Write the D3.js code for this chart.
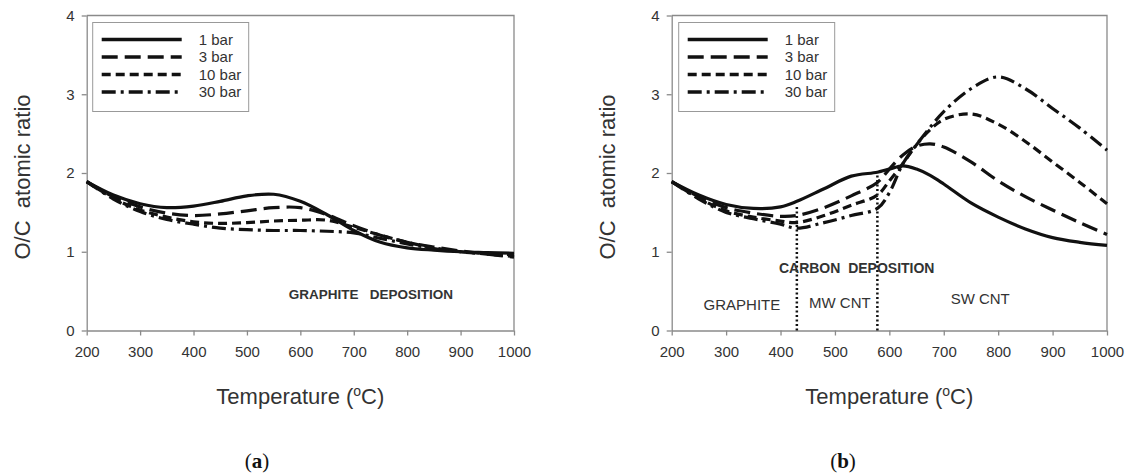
<!DOCTYPE html>
<html>
<head>
<meta charset="utf-8">
<script src="https://cdn.jsdelivr.net/npm/d3@7"></script>
<style>
  body { margin: 0; background: #fff; }
  text { font-family: "Liberation Sans", Arial, sans-serif; fill: #333; }
  .axis path, .axis line { stroke: #8a8a8a; stroke-width: 1.3; }
  .axis text { font-family: "Liberation Sans", Arial, sans-serif; font-size: 15px; fill: #333; }
</style>
</head>
<body>
<div id="chart"></div>
<script>
const width = 1128,
  height = 475;

// DATA
const seriesNames = ["1 bar", "3 bar", "10 bar", "30 bar"];
const xTicks = [200, 300, 400, 500, 600, 700, 800, 900, 1000];
const yTicks = [0, 1, 2, 3, 4];

// panel (a): graphite deposition
const tempA = [200, 250, 300, 350, 400, 450, 500, 550, 600, 650, 700, 750, 800, 850, 900, 950, 1000];
const bar1A = [1.89, 1.72, 1.61, 1.56, 1.58, 1.64, 1.71, 1.73, 1.64, 1.47, 1.27, 1.12, 1.05, 1.02, 1.0, 0.99, 0.98];
const bar3A = [1.89, 1.7, 1.57, 1.49, 1.46, 1.48, 1.52, 1.56, 1.56, 1.47, 1.33, 1.21, 1.12, 1.06, 1.01, 0.97, 0.93];
const bar10A = [1.89, 1.68, 1.53, 1.44, 1.38, 1.36, 1.37, 1.39, 1.4, 1.4, 1.31, 1.21, 1.12, 1.05, 1.0, 0.97, 0.94];
const bar30A = [1.89, 1.67, 1.51, 1.41, 1.35, 1.3, 1.28, 1.27, 1.27, 1.26, 1.24, 1.17, 1.1, 1.04, 1.0, 0.98, 0.96];

// panel (b): carbon deposition
const tempB = [200, 250, 300, 350, 400, 430, 480, 530, 578, 600, 625, 650, 675, 700, 750, 800, 850, 900, 950, 1000];
const bar1B = [1.89, 1.72, 1.6, 1.55, 1.57, 1.64, 1.8, 1.96, 2.01, 2.05, 2.09, 2.05, 1.97, 1.86, 1.62, 1.44, 1.29, 1.18, 1.12, 1.08];
const bar3B = [1.89, 1.7, 1.56, 1.49, 1.45, 1.46, 1.56, 1.71, 1.88, 2.05, 2.23, 2.34, 2.37, 2.33, 2.14, 1.9, 1.7, 1.53, 1.37, 1.22];
const bar10B = [1.89, 1.68, 1.52, 1.44, 1.39, 1.37, 1.46, 1.59, 1.72, 1.9, 2.12, 2.36, 2.55, 2.68, 2.75, 2.62, 2.4, 2.14, 1.88, 1.61];
const bar30B = [1.89, 1.67, 1.5, 1.42, 1.35, 1.3, 1.37, 1.46, 1.55, 1.75, 2.12, 2.36, 2.58, 2.78, 3.07, 3.22, 3.07, 2.82, 2.57, 2.29];

// region dividers in (b): temperature and top value
const dividerTemps = [430, 578];
const dividerTops = [1.6, 1.98];

const dashes = [null, "16,7", "9,5", "14,5,3,5"];

const svg = d3
  .select("#chart")
  .append("svg")
  .attr("width", width)
  .attr("height", height);

function drawPanel(p) {
  const xScale = d3.scaleLinear().domain([200, 1000]).range([p.left, p.right]);
  const yScale = d3.scaleLinear().domain([0, 4]).range([p.bottom, p.top]);

  const g = svg.append("g");

  // frame (top + right)
  g.append("path")
    .attr("d", `M${p.left},${p.top}H${p.right}V${p.bottom}`)
    .attr("fill", "none")
    .attr("stroke", "#8a8a8a")
    .attr("stroke-width", 1.3);

  g.append("g")
    .attr("class", "axis")
    .attr("transform", `translate(0,${p.bottom})`)
    .call(d3.axisBottom(xScale).tickValues(xTicks).tickFormat(d3.format("d"))
      .tickSize(5).tickSizeOuter(0).tickPadding(11));

  g.append("g")
    .attr("class", "axis")
    .attr("transform", `translate(${p.left},0)`)
    .call(d3.axisLeft(yScale).tickValues(yTicks).tickFormat(d3.format("d"))
      .tickSize(5).tickSizeOuter(0).tickPadding(7));

  // axis titles
  const xt = g.append("text")
    .attr("x", (p.left + p.right) / 2)
    .attr("y", 404)
    .attr("text-anchor", "middle")
    .style("font-size", "22px");
  xt.append("tspan").text("Temperature (");
  xt.append("tspan").attr("baseline-shift", "super").style("font-size", "14px").text("o");
  xt.append("tspan").text("C)");

  g.append("text")
    .attr("transform", `translate(${p.left - 57},${(p.top + p.bottom) / 2 + 4}) rotate(-90)`)
    .attr("text-anchor", "middle")
    .style("font-size", "22px")
    .style("white-space", "pre")
    .text("O/C  atomic ratio");

  // curves
  const line = d3.line()
    .x(d => xScale(d[0]))
    .y(d => yScale(d[1]))
    .curve(d3.curveCatmullRom.alpha(0.5));

  p.series.forEach((vals, i) => {
    g.append("path")
      .datum(p.temps.map((t, j) => [t, vals[j]]))
      .attr("fill", "none")
      .attr("stroke", "#111")
      .attr("stroke-width", 3.2)
      .attr("stroke-dasharray", dashes[i])
      .attr("d", line);
  });

  // legend
  const lg = g.append("g").attr("transform", `translate(${p.left + p.legendDx},${p.top + 7})`);
  lg.append("rect")
    .attr("width", 156)
    .attr("height", 89)
    .attr("fill", "#fff")
    .attr("stroke", "#999")
    .attr("stroke-width", 1);
  seriesNames.forEach((name, i) => {
    const y = 17 + i * 17.5;
    lg.append("line")
      .attr("x1", 9).attr("x2", 89)
      .attr("y1", y).attr("y2", y)
      .attr("stroke", "#111")
      .attr("stroke-width", 3.5)
      .attr("stroke-dasharray", dashes[i]);
    lg.append("text")
      .attr("x", 106)
      .attr("y", y + 5)
      .style("font-size", "15px")
      .text(name);
  });

  // panel letter
  const lt = g.append("text")
    .attr("x", p.letterX)
    .attr("y", 468)
    .attr("text-anchor", "middle")
    .style("font-family", "'Liberation Serif', 'DejaVu Serif', serif")
    .style("font-size", "21px")
    .style("fill", "#111");
  lt.append("tspan").text("(");
  lt.append("tspan").style("font-weight", "bold").text(p.letter);
  lt.append("tspan").text(")");

  return { xScale, yScale, g };
}

// (a)
const pa = drawPanel({
  left: 86.7, right: 514, top: 15.5, bottom: 330.5,
  temps: tempA, series: [bar1A, bar3A, bar10A, bar30A],
  legendDx: 6, letter: "a", letterX: 257
});
pa.g.append("text")
  .attr("x", pa.xScale(732))
  .attr("y", pa.yScale(0.46) + 5)
  .attr("text-anchor", "middle")
  .style("font-size", "13.5px")
  .style("font-weight", "bold")
  .style("white-space", "pre")
  .text("GRAPHITE   DEPOSITION");

// (b)
const pb = drawPanel({
  left: 671.7, right: 1107, top: 15.5, bottom: 330.5,
  temps: tempB, series: [bar1B, bar3B, bar10B, bar30B],
  legendDx: 7, letter: "b", letterX: 843
});

dividerTemps.forEach((t, i) => {
  pb.g.append("line")
    .attr("x1", pb.xScale(t)).attr("x2", pb.xScale(t))
    .attr("y1", pb.yScale(0)).attr("y2", pb.yScale(dividerTops[i]))
    .attr("stroke", "#111")
    .attr("stroke-width", 2.5)
    .attr("stroke-dasharray", "2,2.5");
});

pb.g.append("text")
  .attr("x", pb.xScale(540))
  .attr("y", pb.yScale(0.8) + 5)
  .attr("text-anchor", "middle")
  .style("font-size", "14px")
  .style("font-weight", "bold")
  .style("white-space", "pre")
  .text("CARBON  DEPOSITION");

const regionLabels = ["GRAPHITE", "MW CNT", "SW CNT"];
const regionX = [329, 509, 767];
const regionY = [0.32, 0.35, 0.4];
regionLabels.forEach((lab, i) => {
  pb.g.append("text")
    .attr("x", pb.xScale(regionX[i]))
    .attr("y", pb.yScale(regionY[i]) + 5)
    .attr("text-anchor", "middle")
    .style("font-size", "15px")
    .text(lab);
});
</script>
</body>
</html>
